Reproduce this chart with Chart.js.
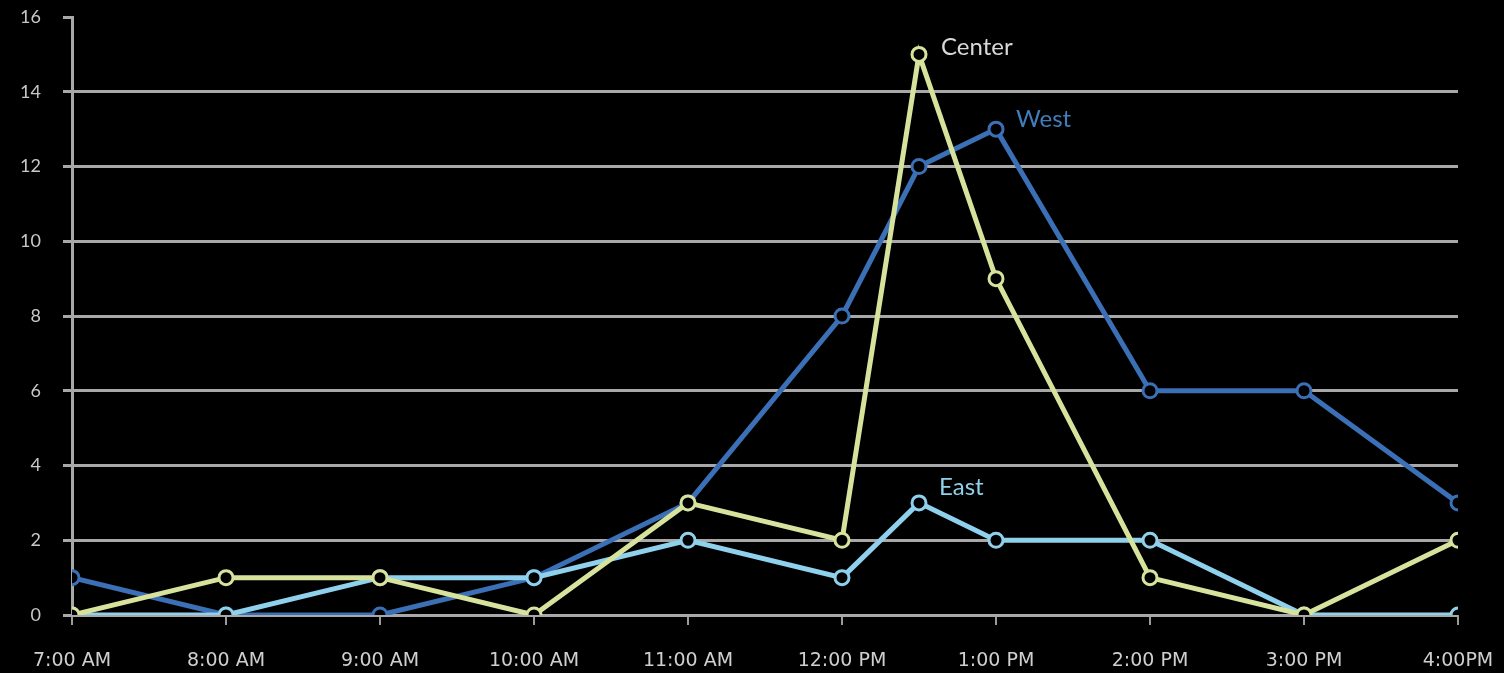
<!DOCTYPE html>
<html lang="en">
<head>
    <meta charset="UTF-8">
    <title>Visitors by hour</title>
    <script src="https://cdn.jsdelivr.net/npm/chart.js"></script>
    <style>
        html, body {
            margin: 0;
            padding: 0;
            background-color: #000;
        }
        #wrap {
            width: 1504px;
            height: 673px;
        }
    </style>
</head>
<body>
    <div id="wrap"><canvas id="myChart" width="1504" height="673"></canvas></div>

    <script>
        // hours of the day (12.5 = half past noon)
        const hours = [7, 8, 9, 10, 11, 12, 12.5, 13, 14, 15, 16];
        const hourLabels = {
            7: '7:00 AM', 8: '8:00 AM', 9: '9:00 AM', 10: '10:00 AM', 11: '11:00 AM',
            12: '12:00 PM', 13: '1:00 PM', 14: '2:00 PM', 15: '3:00 PM', 16: '4:00PM'
        };
        const yTicks = [0, 2, 4, 6, 8, 10, 12, 14, 16];

        const centerValues = [0, 1, 1, 0, 3, 2, 15, 9, 1, 0, 2];
        const eastValues = [0, 0, 1, 1, 2, 1, 3, 2, 2, 0, 0];
        const westValues = [1, 0, 0, 1, 3, 8, 12, 13, 6, 6, 3];

        const seriesNames = ['Center', 'East', 'West'];
        const seriesColors = ['#d7e39c', '#8fd1ec', '#3b6fb6'];
        const labelColors = ['#d8d8d8', '#8fd1ec', '#3f7dbb'];

        function toPoints(values) {
            return values.map((v, i) => ({ x: hours[i], y: v }));
        }

        // series name written beside each line's highest point
        const seriesLabels = {
            id: 'seriesLabels',
            afterDatasetsDraw(chart) {
                const ctx = chart.ctx;
                const offsets = [[22, -7], [20, -16], [20, -10]];
                ctx.save();
                ctx.font = '24px Lato, "Open Sans", sans-serif';
                ctx.textBaseline = 'middle';
                chart.data.datasets.forEach((ds, i) => {
                    let best = 0;
                    ds.data.forEach((p, j) => { if (p.y > ds.data[best].y) best = j; });
                    const pt = ds.data[best];
                    const x = chart.scales.x.getPixelForValue(pt.x);
                    const y = chart.scales.y.getPixelForValue(pt.y);
                    ctx.fillStyle = labelColors[i];
                    ctx.fillText(ds.label, x + offsets[i][0], y + offsets[i][1]);
                });
                ctx.restore();
            }
        };

        const datasets = [centerValues, eastValues, westValues].map((vals, i) => ({
            label: seriesNames[i],
            data: toPoints(vals),
            borderColor: seriesColors[i],
            borderWidth: 5,
            pointRadius: 7,
            pointBorderWidth: 3,
            pointBackgroundColor: '#000',
            pointBorderColor: seriesColors[i],
            tension: 0
        }));

        const ctx = document.getElementById('myChart').getContext('2d');
        const myChart = new Chart(ctx, {
            type: 'line',
            data: { datasets: datasets },
            options: {
                responsive: false,
                animation: false,
                layout: { padding: { top: 17, right: 46, bottom: 0, left: 14 } },
                plugins: {
                    legend: { display: false },
                    tooltip: { enabled: false }
                },
                scales: {
                    x: {
                        type: 'linear',
                        min: 7,
                        max: 16,
                        afterBuildTicks(scale) {
                            scale.ticks = Object.keys(hourLabels).map(v => ({ value: Number(v) }));
                        },
                        afterFit(scale) {
                            scale.height = 58;
                            scale.paddingLeft = 0;
                            scale.paddingRight = 0;
                        },
                        ticks: {
                            color: '#cfcfcf',
                            font: { family: '"DejaVu Sans", sans-serif', size: 19 },
                            padding: 25,
                            maxRotation: 0,
                            autoSkip: false,
                            callback: v => hourLabels[v]
                        },
                        grid: {
                            drawOnChartArea: false,
                            drawTicks: true,
                            tickLength: 10,
                            tickColor: '#9a9a9a',
                            lineWidth: 2
                        },
                        border: { display: false }
                    },
                    y: {
                        min: 0,
                        max: 16,
                        afterBuildTicks(scale) {
                            scale.ticks = yTicks.map(v => ({ value: v }));
                        },
                        afterFit(scale) {
                            scale.width = 58;
                            scale.paddingTop = 0;
                            scale.paddingBottom = 0;
                        },
                        ticks: {
                            color: '#c8c8c8',
                            font: { family: 'Lato, "Open Sans", sans-serif', size: 18 },
                            padding: 22
                        },
                        grid: {
                            color: c => (c.tick && c.tick.value === 16) ? 'rgba(0,0,0,0)' : '#a8a8a8',
                            tickColor: '#a8a8a8',
                            lineWidth: 3,
                            tickLength: 9
                        },
                        border: { display: true, color: '#a8a8a8', width: 3 }
                    }
                }
            },
            plugins: [seriesLabels]
        });
    </script>
</body>
</html>
